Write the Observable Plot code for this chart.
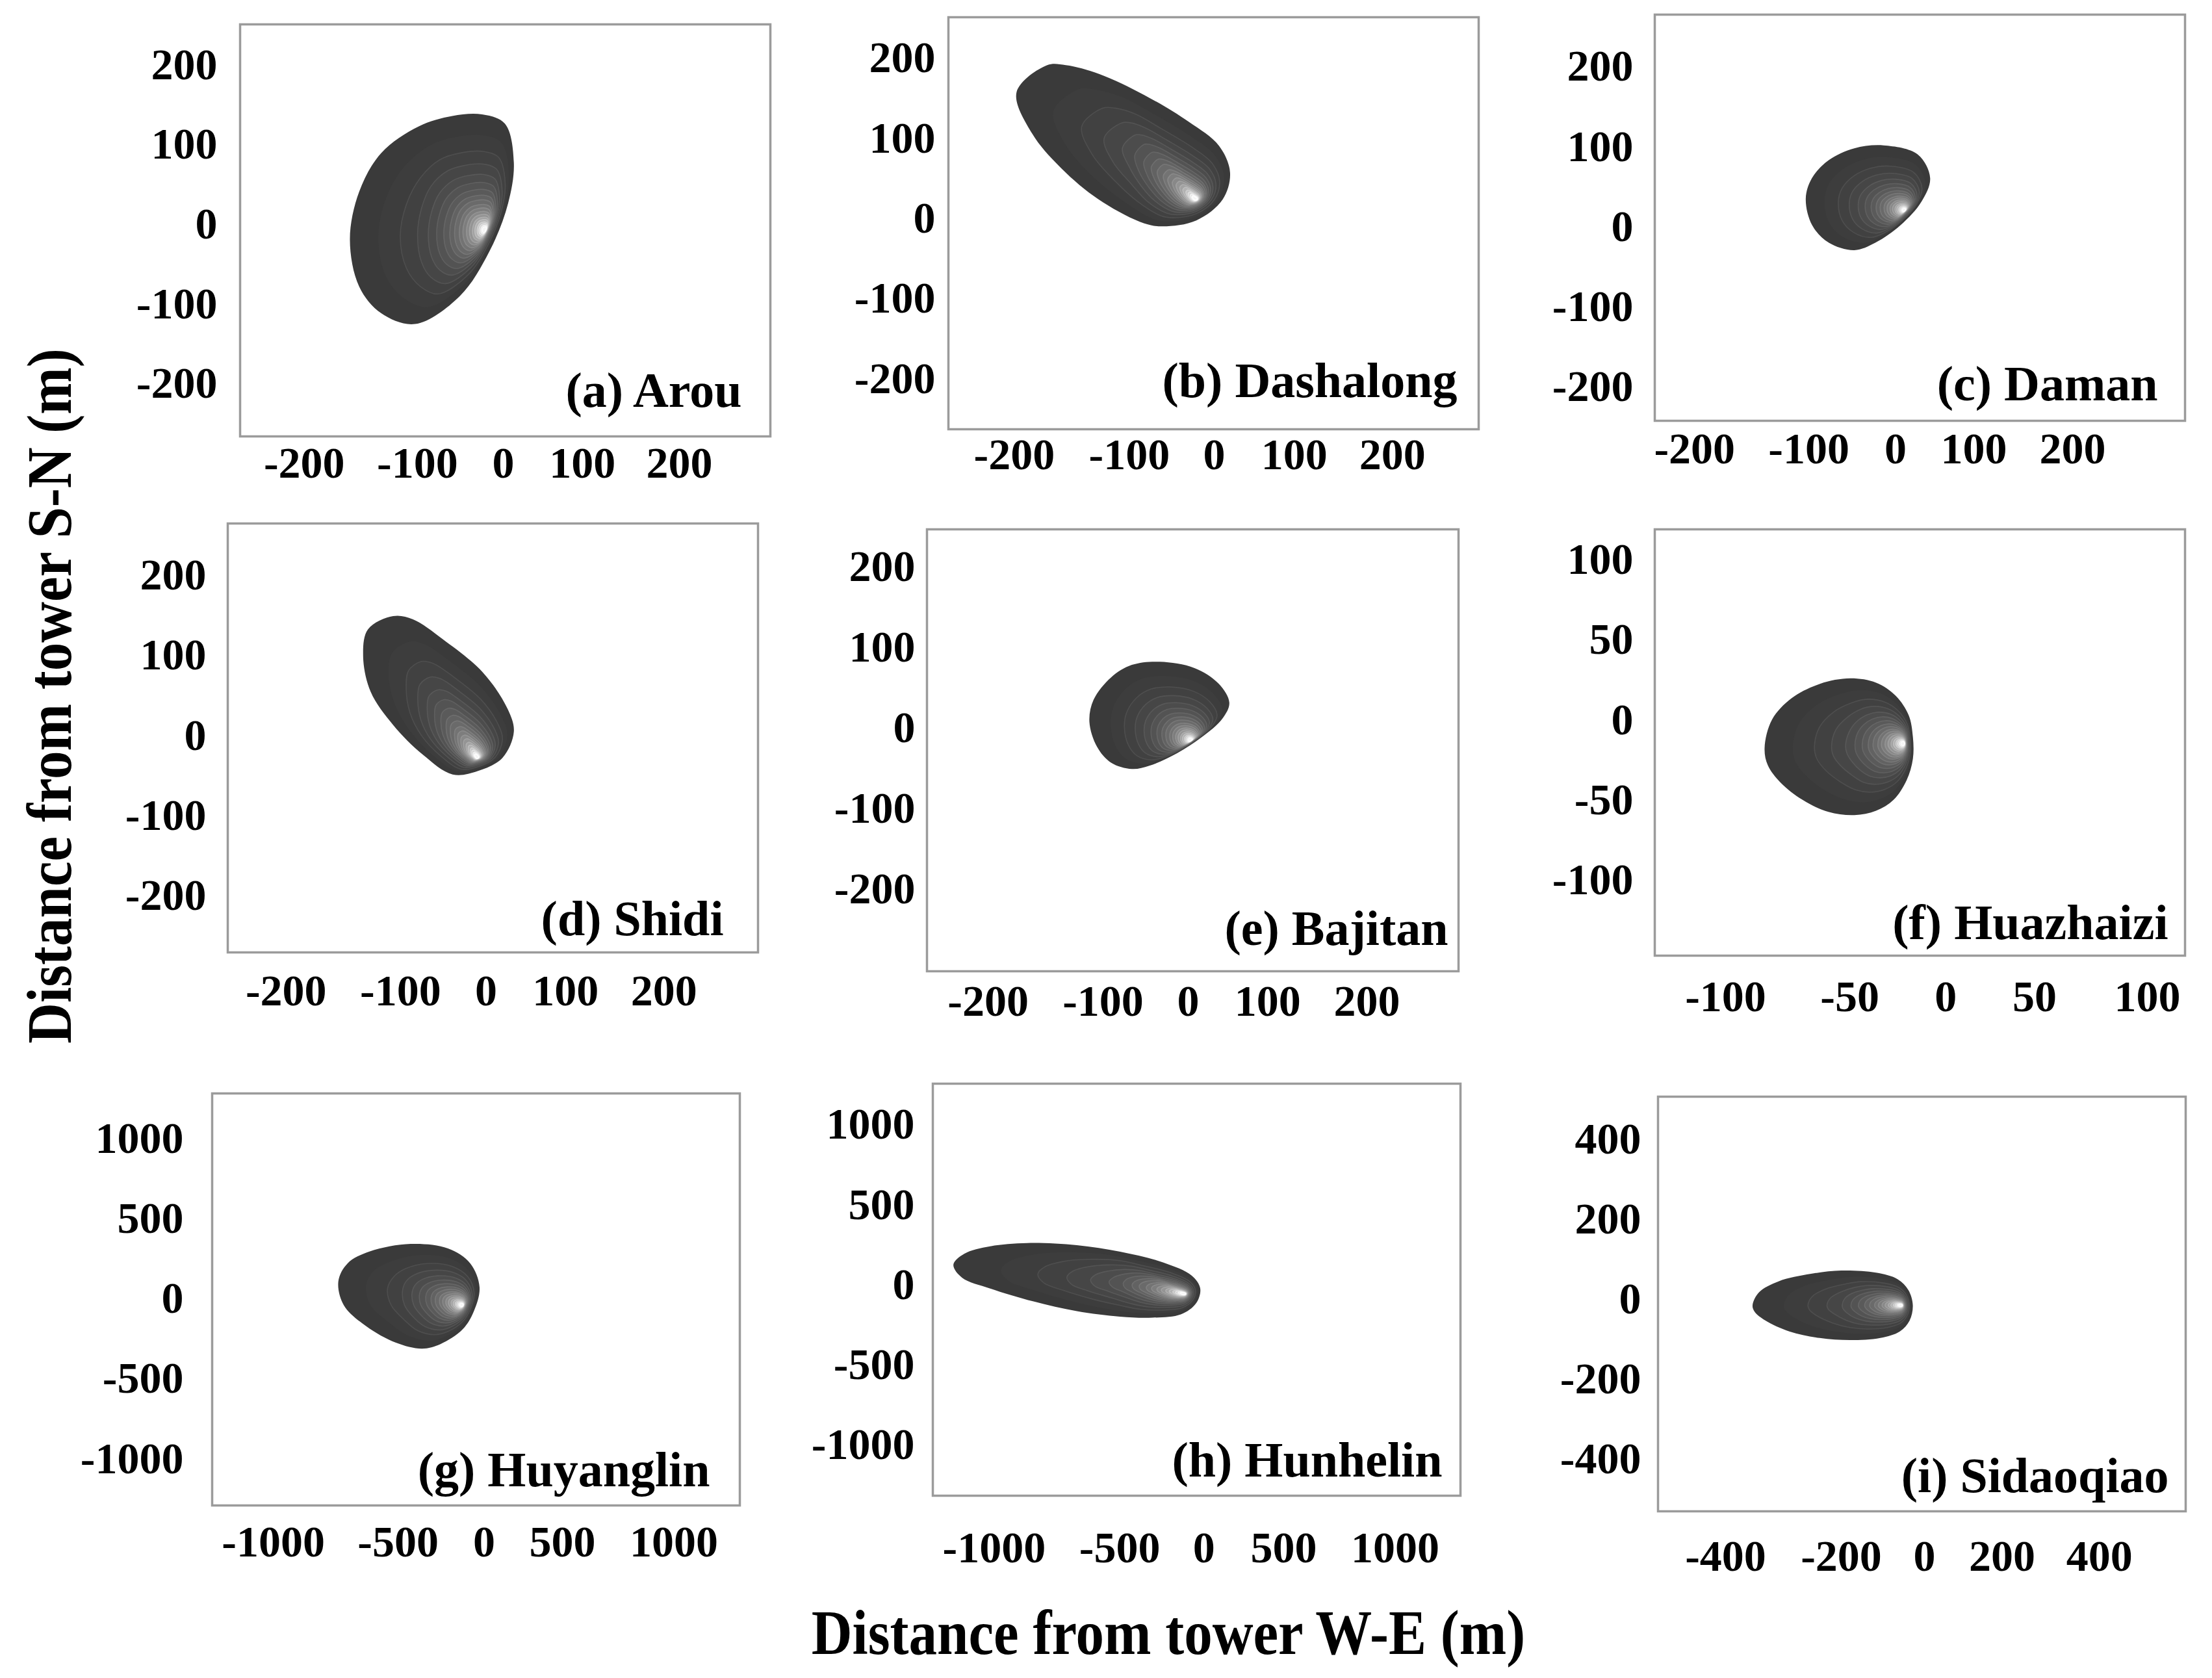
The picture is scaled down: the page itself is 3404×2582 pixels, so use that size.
<!DOCTYPE html>
<html><head><meta charset="utf-8">
<script src="https://cdn.jsdelivr.net/npm/d3@7"></script>
<script src="https://cdn.jsdelivr.net/npm/@observablehq/plot@0.6"></script>
<style>
html,body{margin:0;padding:0;background:#fff;}
#page{position:relative;width:3404px;height:2582px;overflow:hidden;background:#fff;font-family:"Liberation Serif","Times New Roman",serif;}
.axtitle{position:absolute;font-family:"Liberation Serif","Times New Roman",serif;font-weight:bold;font-size:87px;line-height:1;white-space:nowrap;color:#000;}
</style></head><body><div id="page"></div>
<script>
// ---------------- data ----------------
const titles = ["(a) Arou","(b) Dashalong","(c) Daman","(d) Shidi","(e) Bajitan","(f) Huazhaizi","(g) Huyanglin","(h) Hunhelin","(i) Sidaoqiao"];

// footprint outlines (m, W-E / S-N)
const outlineA = [[-24.7,138],[2.1,126.5],[13.4,78],[6.2,26.5],[-16,-33.6],[-50.7,-90],[-102.1,-125],[-132,-111.5],[-151.5,-78],[-159.7,-19],[-151.5,41],[-132,89.6],[-98.5,123],[-59.4,136]];
const outlineB = [[-171.4,191.2],[-198,157.7],[-184.4,105.6],[-155.2,57.1],[-122.7,19.9],[-82.4,-6.2],[-60.4,-9.9],[-21,-2.5],[10.6,23.6],[19.9,57.1],[6,90.7],[-29.8,120.5],[-82.4,154],[-126,180.1],[-155.2,191.2]];
const outlineC = [[-13.7,101.8],[28.1,90.6],[44.1,61.2],[33.3,31.9],[6.5,2.3],[-23.4,-19.8],[-47.6,-29],[-76.9,-19.8],[-96.3,2.3],[-102.7,35.4],[-96.3,61.2],[-76.9,83.4],[-47.6,98.1]];
const outlineD = [[-106.5,149.3],[-128.4,132.8],[-132.7,99.8],[-126.1,54.6],[-106.5,13.3],[-73.9,-23.9],[-39.1,-48.6],[-9.9,-44.4],[20.6,-27.9],[35,5.1],[26.8,33.9],[-4.1,79.3],[-50.7,120.5],[-85.5,145.3]];
const outlineE = [[-33.4,82.5],[7.8,74.7],[38.5,55.1],[51.7,31.6],[43,11.9],[16.7,-11.4],[-13.1,-31.1],[-45.7,-46.7],[-66.2,-50.7],[-90.7,-42.8],[-105.2,-23.3],[-111.9,8.1],[-108.2,35.4],[-90.7,63],[-66.2,78.6]];
const outlineF = [[-84.3,-17.4],[-81.3,0.3],[-73.4,13.7],[-62,22.6],[-49.8,26],[-36.3,23.3],[-26.1,15.2],[-19.3,3],[-17.1,-10.6],[-17.1,-24.1],[-20.4,-37.6],[-27.2,-49.8],[-36.3,-56.6],[-47.6,-59.3],[-58.6,-57.3],[-69,-49.8],[-77.8,-39.1],[-83,-28.2]];
const outlineG = [[-739.5,108.8],[-702.3,221.2],[-613,295.6],[-427,342.5],[-210.7,314.2],[-81.1,221.2],[-27,71.7],[-59.8,-77.9],[-124.6,-190.3],[-254.1,-283.2],[-361.5,-311.5],[-509,-274.3],[-627.7,-171.7],[-717.5,-40.7]];
const outlineH = [[-1162.4,126],[-1119.1,193.8],[-1015.7,240.5],[-869.1,260.8],[-670.8,247.6],[-497.5,207],[-240.4,139.2],[-72.9,58.1],[-21.8,-22.9],[-47.7,-117.2],[-137.4,-185],[-304.9,-205.3],[-497.5,-199.1],[-670.8,-164.8],[-843.3,-104],[-1015.7,-22.9],[-1128.1,44.9]];
const outlineI = [[-353.4,-15.2],[-342.2,17.3],[-308.5,44.6],[-252.4,63.4],[-200,71.5],[-116.6,66.2],[-64.4,49.9],[-38.6,22.7],[-28.1,-15.2],[-35.9,-53.5],[-59.3,-80.7],[-106.1,-97],[-179,-102.3],[-237.3,-97],[-289.8,-80.7],[-331,-53.5],[-349.8,-31.5]];
const outlines = [outlineA,outlineB,outlineC,outlineD,outlineE,outlineF,outlineG,outlineH,outlineI];

// footprint peak (maximum contribution) locations
const peaks = [[-20.6,-7],[-21,23.6],[11.9,20.7],[-9.9,-27.9],[3.6,-15.4],[-21.6,-14.6],[-124.6,-40.7],[-111.4,-56.4],[-54.2,-15.2]];

// axis extents and tick labels
const xDomains = [[-256.7,293.9],[-257.4,287.9],[-234.6,314.3],[-251.3,295.4],[-253,292.9],[-128.4,116.9],[-1245.8,1294.3],[-1244.4,1292],[-517.1,576.8]];
const yDomains = [[-266,251],[-263,251],[-242,265],[-271,265],[-302,247],[-147,119],[-1291,1282],[-1317,1256],[-530,506]];
const ticks200 = [-200,-100,0,100,200];
const ticks100 = [-100,-50,0,50,100];
const ticks1000 = [-1000,-500,0,500,1000];
const ticks400 = [-400,-200,0,200,400];
const xTicks = [ticks200,ticks200,ticks200,ticks200,ticks200,ticks100,ticks1000,ticks1000,ticks400];
const yTicks = [ticks200,ticks200,ticks200,ticks200,ticks200,ticks100,ticks1000,ticks1000,ticks400];

// ---------------- layout & style ----------------
// frame rectangles in page pixels: [left, top, width, height]
const frames = [[369,37,816,634],[1459,26,816,634],[2546,22,816,625],
                [350,805,816,660],[1426,814,818,680],[2546,814,816,656],
                [326,1682,812,634],[1435,1667,812,634],[2551,1687,812,638]];
// page x of the (hand-placed, unevenly spaced) W-E tick labels in the original figure
const xTickPx = [[467.8,641.9,773.9,895.7,1045.1],[1560.4,1737.4,1867.9,1991.2,2142.2],[2607.3,2783.1,2916.6,3037.1,3189.0],
                 [439.8,615.9,747.5,869.7,1021.2],[1520.1,1697.0,1828.1,1950.3,2103.0],[2655.0,2846.1,2993.7,3130.4,3304.1],
                 [420.1,612.2,744.6,865.1,1036.6],[1529.4,1722.6,1852.2,1974.9,2146.6],[2655.0,2833.0,2961.1,3080.5,3230.3]];
const xPad = [15,13,17,33,20,37,30,54,43];
const yPad = [35,20,33,33,18,33,44,28,26];
const titleOff = [[44,46],[33,50],[42,32],[53,27],[16,41],[26,26],[46,30],[28,30],[26,30]];
const ringF =    [1, 0.82,0.68,0.57,0.48,0.41,0.35,0.30,0.26,0.22,0.19,0.16,0.135,0.11,0.09,0.07,0.055,0.04,0.028];
const ringGray = [58,61,  65,  70,  76,  83,  90,  98,  106, 115, 125, 136, 148,  162, 178, 195, 212,  230, 245];
const ML = 230, MR = 10, MT = 10, MB = 130;

const page = document.getElementById("page");
const fmt = d => String(d);

titles.forEach((title, i) => {
  const [L, T, W, H] = frames[i];
  const [px, py] = peaks[i];
  const x0 = L - ML;
  // piecewise-linear W-E axis, matching the uneven label placement of the original figure
  const we = d3.scaleLinear()
    .domain([xDomains[i][0], ...xTicks[i], xDomains[i][1]])
    .range([L, ...xTickPx[i], L + W]);
  const tickLabel = new Map(xTicks[i].map(v => [we(v), String(v)]));
  const marks = [];
  ringF.forEach((f, k) => {
    const ring = outlines[i].map(([x, y]) => ({x: px + f * (x - px), y: py + f * (y - py)}));
    const g = ringGray[k];
    const gs = Math.min(255, g + 16);
    marks.push(Plot.line(ring, {x: d => we(d.x), y: "y", curve: "catmull-rom-closed",
      fill: d3.rgb(g, g, g).formatHex(),
      stroke: k >= 2 ? d3.rgb(gs, gs, gs).formatHex() : "none",
      strokeWidth: k >= 2 ? 1.6 : 0, strokeOpacity: 0.85}));
  });
  marks.push(Plot.frame({stroke: "#9b9b9b", strokeWidth: 3.5}));
  marks.push(Plot.text([title], {text: d => d, frameAnchor: "bottom-right", textAnchor: "end",
    lineAnchor: "bottom", dx: -titleOff[i][0], dy: -titleOff[i][1], fontSize: 76, fontWeight: "bold", fill: "#000"}));
  const svg = Plot.plot({
    width: ML + W + MR, height: MT + H + MB,
    marginLeft: ML, marginRight: MR, marginTop: MT, marginBottom: MB,
    style: {background: "none", fontFamily: "'Liberation Serif','Times New Roman',serif", fontWeight: "bold", fontSize: "68px", color: "#000", overflow: "visible"},
    x: {domain: [L, L + W], ticks: xTicks[i].map(v => we(v)), tickFormat: d => tickLabel.get(d),
        tickSize: 0, tickPadding: xPad[i], label: null},
    y: {domain: yDomains[i], ticks: yTicks[i], tickFormat: fmt, tickSize: 0, tickPadding: yPad[i], label: null},
    marks
  });
  svg.style.position = "absolute";
  svg.style.left = x0 + "px";
  svg.style.top = (T - MT) + "px";
  svg.style.maxWidth = "none";
  page.appendChild(svg);
});

// shared axis titles
const xt = document.createElement("div");
xt.className = "axtitle";
xt.textContent = "Distance from tower W-E (m)";
xt.style.left = "1798px"; xt.style.top = "2512px";
xt.style.transform = "translate(-50%,-50%) scale(1,1.12)";
page.appendChild(xt);
const yt = document.createElement("div");
yt.className = "axtitle";
yt.textContent = "Distance from tower S-N (m)";
yt.style.left = "76px"; yt.style.top = "1071px";
yt.style.transform = "translate(-50%,-50%) rotate(-90deg) scale(1,1.12)";
page.appendChild(yt);
</script></body></html>
